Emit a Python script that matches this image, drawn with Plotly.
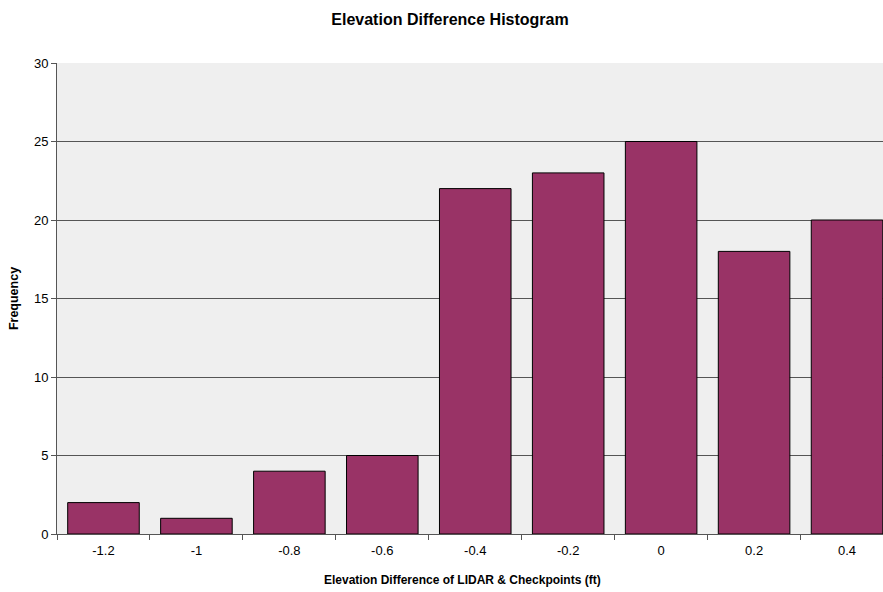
import plotly.graph_objects as go

categories = ["-1.2", "-1", "-0.8", "-0.6", "-0.4", "-0.2", "0", "0.2", "0.4"]
frequency = [2, 1, 4, 5, 22, 23, 25, 18, 20]
y_ticks = [0, 5, 10, 15, 20, 25, 30]

fig = go.Figure(go.Bar(
    x=categories, y=frequency,
    marker=dict(color="#993366", line=dict(color="#000000", width=1)),
    width=0.77,
))

fam = "Liberation Sans, Arial, sans-serif"
font = dict(family=fam, size=13, color="#000000")

fig.update_layout(
    width=883, height=592,
    margin=dict(l=57, r=0, t=63, b=58),
    paper_bgcolor="#ffffff",
    plot_bgcolor="#efefef",
    font=font,
    showlegend=False,
    title=dict(text="<b>Elevation Difference Histogram</b>", xref="container", x=450/883,
               xanchor="center", y=1 - 19/592, yanchor="middle",
               font=dict(size=16, family=fam)),
    annotations=[dict(
        text="<b>Elevation Difference of LIDAR & Checkpoints (ft)</b>",
        xref="paper", yref="paper", x=(462 - 57) / 826, y=0,
        xanchor="center", yanchor="middle", yshift=-46, showarrow=False,
        font=dict(size=12, family=fam),
    )],
)
fig.update_xaxes(
    type="category", range=[-0.5, 8.387],
    showline=True, linecolor="#555555", linewidth=1,
    ticks="outside", ticklen=5, tickcolor="#555555", tickson="boundaries",
    ticklabelstandoff=4,
    showgrid=False,
    tickfont=dict(size=13),
)
fig.update_yaxes(
    range=[0, 30], tickvals=y_ticks,
    showline=True, linecolor="#555555", linewidth=1,
    ticks="outside", ticklen=5, tickcolor="#555555",
    showgrid=True, gridcolor="#555555", gridwidth=1,
    zeroline=False,
    title=dict(text="<b>Frequency</b>", standoff=12, font=dict(size=12.5)),
    tickfont=dict(size=13),
)

fig.write_html("out.html", config={"displayModeBar": False},
               post_script="document.body.style.margin='0';")
